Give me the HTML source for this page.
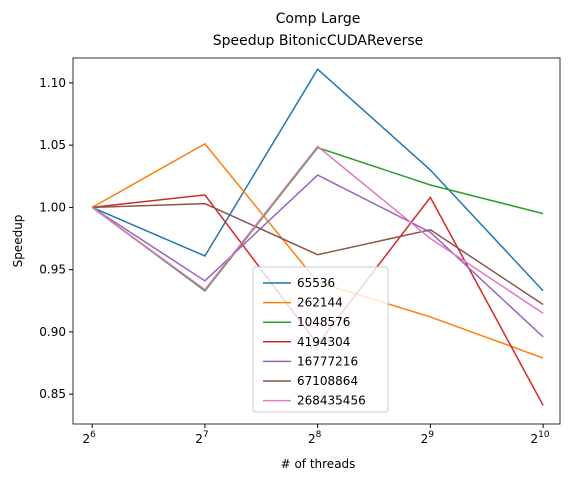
<!DOCTYPE html>
<html><head><meta charset="utf-8"><style>
body{margin:0;background:#fff;font-family:"Liberation Sans","DejaVu Sans",sans-serif}
svg text{font-family:"DejaVu Sans","Liberation Sans",sans-serif;fill:#000}
</style></head><body>
<svg id="c" width="576" height="480" xmlns="http://www.w3.org/2000/svg"></svg>
<script>
const categories=[6,7,8,9,10];
const seriesNames=["65536","262144","1048576","4194304","16777216","67108864","268435456"];
const s65536=[1.0,0.961,1.111,1.030,0.933];
const s262144=[1.0,1.051,0.940,0.912,0.879];
const s1048576=[1.0,0.933,1.048,1.018,0.995];
const s4194304=[1.0,1.010,0.890,1.008,0.841];
const s16777216=[1.0,0.941,1.026,0.980,0.896];
const s67108864=[1.0,1.003,0.962,0.982,0.922];
const s268435456=[1.0,0.934,1.049,0.975,0.915];
const yTicks=[0.85,0.90,0.95,1.00,1.05,1.10];
const colors=["#1f77b4","#ff7f0e","#2ca02c","#d62728","#9467bd","#8c564b","#e377c2"];
const allSeries=[s65536,s262144,s1048576,s4194304,s16777216,s67108864,s268435456];
const L=73,R=560,T=58,B=424;
const x=v=>L+(v-5.83)/(10.15-5.83)*(R-L);
const y=v=>B-(v-0.826)/(1.120-0.826)*(B-T);
const svg=document.getElementById('c');const NS="http://www.w3.org/2000/svg";
function mk(t,a,p){const e=document.createElementNS(NS,t);for(const k in a)e.setAttribute(k,a[k]);(p||svg).appendChild(e);return e;}
let e;
e=mk('text',{x:318,y:23,'text-anchor':'middle','font-size':14});e.textContent='Comp Large';


e=mk('text',{x:318,y:45,'text-anchor':'middle','font-size':14});e.textContent='Speedup BitonicCUDAReverse';


yTicks.forEach(v=>{const yy=y(v);mk('line',{x1:L-4,x2:L,y1:yy,y2:yy,stroke:'#000'});
e=mk('text',{x:L-7,y:yy+4,'text-anchor':'end','font-size':12});e.textContent=v.toFixed(2);

});
categories.forEach(c=>{const xx=x(c);mk('line',{x1:xx,x2:xx,y1:B,y2:B+4,stroke:'#000'});
e=mk('text',{x:xx-3,y:B+19,'text-anchor':'middle','font-size':12});e.innerHTML='2<tspan dy="-6" font-size="9">'+c+'</tspan>';

});
e=mk('text',{x:318,y:468,'text-anchor':'middle','font-size':12});e.textContent='# of threads';


e=mk('text',{x:22,y:241,'text-anchor':'middle','font-size':12,transform:'rotate(-90 22 241)'});e.textContent='Speedup';


allSeries.forEach((s,i)=>{e=mk('polyline',{points:s.map((v,j)=>x(categories[j])+','+y(v)).join(' '),fill:'none',stroke:colors[i],'stroke-width':1.5});

});
e=mk('rect',{x:L,y:T,width:R-L,height:B-T,fill:'none',stroke:'#000','stroke-width':0.8});


const lg=mk('g',{});
mk('rect',{x:253,y:267,width:135,height:145,rx:3,fill:'#fff','fill-opacity':0.8,stroke:'#ccc'},lg);
seriesNames.forEach((n,i)=>{const yy=283+i*19.6;mk('line',{x1:263,x2:291,y1:yy,y2:yy,stroke:colors[i],'stroke-width':1.5},lg);
e=mk('text',{x:297,y:yy+4,'font-size':12},lg);e.textContent=n;

});
</script></body></html>
